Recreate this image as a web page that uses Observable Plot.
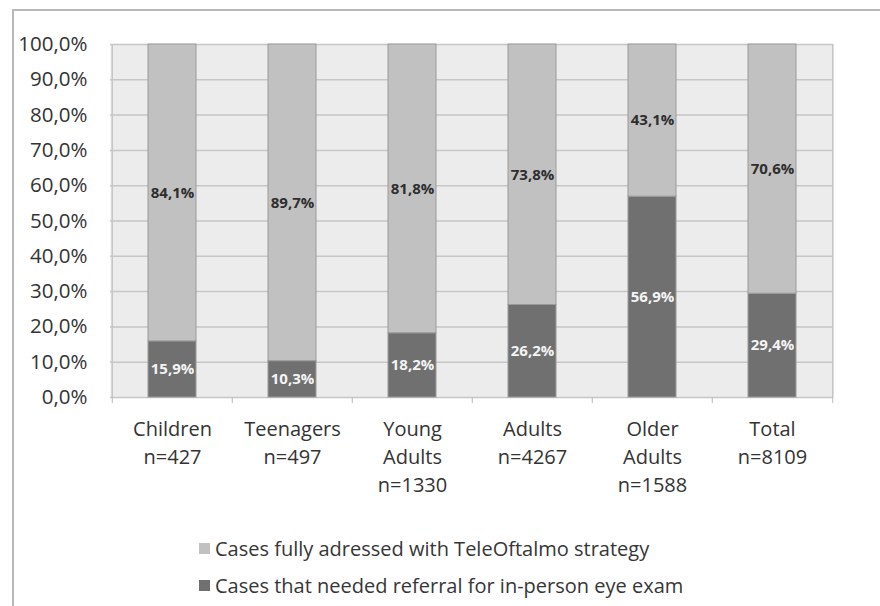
<!DOCTYPE html>
<html>
<head>
<meta charset="utf-8">
<script src="https://cdn.jsdelivr.net/npm/d3@7"></script>
<script src="https://cdn.jsdelivr.net/npm/@observablehq/plot@0.6"></script>
<style>
  html, body { margin: 0; padding: 0; background: #fff; }
  body { width: 880px; height: 606px; position: relative; overflow: hidden; font-family: "Open Sans", sans-serif; }
  #frame { position: absolute; left: 12px; top: 9px; width: 900px; height: 700px; border: 2px solid #b8b8b8; box-sizing: border-box; }
  #chart { position: absolute; left: 0; top: 0; }
  #legend { position: absolute; left: 199px; top: 530px; font-size: 20px; color: #363636; }
  .item { display: flex; align-items: center; height: 37px; }
  .sw { width: 11px; height: 11px; margin-right: 5px; }
</style>
</head>
<body>
<div id="frame"></div>
<div id="chart"></div>
<div id="legend"></div>
<script>
const categories = ["Children", "Teenagers", "Young Adults", "Adults", "Older Adults", "Total"];
const tickLabels = ["Children\nn=427", "Teenagers\nn=497", "Young\nAdults\nn=1330", "Adults\nn=4267", "Older\nAdults\nn=1588", "Total\nn=8109"];
const referral = [15.9, 10.3, 18.2, 26.2, 56.9, 29.4];
const fully = [84.1, 89.7, 81.8, 73.8, 43.1, 70.6];
const seriesNames = ["Cases that needed referral for in-person eye exam", "Cases fully adressed with TeleOftalmo strategy"];
const seriesColors = ["#707070", "#c1c1c1"];
const labelColors = ["#f4f4f4", "#2e2e2e"];
const yTicks = [0, 10, 20, 30, 40, 50, 60, 70, 80, 90, 100];

const data = [];
categories.forEach((c, i) => data.push({cat: c, series: seriesNames[0], value: referral[i]}));
categories.forEach((c, i) => data.push({cat: c, series: seriesNames[1], value: fully[i]}));

const W = 880, H = 500, mL = 110, mR = 47, mT = 44, mB = 103;
const step = (W - mL - mR) / categories.length;
const fmt = d => d.toFixed(1).replace(".", ",") + "%";
const labelOf = Object.fromEntries(categories.map((c, i) => [c, tickLabels[i]]));

const chart = Plot.plot({
  width: W, height: H,
  marginLeft: mL, marginRight: mR, marginTop: mT, marginBottom: mB,
  style: {fontFamily: "'Open Sans', sans-serif", background: "transparent"},
  x: {domain: categories, paddingInner: 0.6, paddingOuter: 0.3, label: null},
  y: {domain: [0, 100], label: null},
  color: {domain: seriesNames, range: seriesColors},
  marks: [
    Plot.frame({fill: "#ececec", stroke: null}),
    Plot.ruleY(yTicks, {stroke: "#c6c6c6", strokeWidth: 1.5}),
    Plot.ruleX([categories[0]], {dx: -step / 2, stroke: "#c6c6c6", strokeWidth: 1.5}),
    Plot.ruleX([categories[categories.length - 1]], {dx: step / 2, stroke: "#c6c6c6", strokeWidth: 1.5}),
    Plot.barY(data, {x: "cat", y: "value", fill: "series", stroke: "#9a9a9a", strokeWidth: 1}),
    Plot.text(data, Plot.stackY({
      x: "cat", y: "value",
      text: d => fmt(d.value),
      fill: d => labelColors[seriesNames.indexOf(d.series)],
      fontSize: 15, fontWeight: "bold"
    })),
    Plot.axisY({ticks: yTicks, tickFormat: fmt, tickSize: 0, tickPadding: 23, fontSize: 20.5, fill: "#333"}),
    Plot.axisX({tickSize: 6, tickFormat: null, dx: -step / 2, stroke: "#b8b8b8"}),
    Plot.axisX({ticks: [categories[categories.length - 1]], tickSize: 6, tickFormat: null, dx: step / 2, stroke: "#b8b8b8"}),
    Plot.axisX({tickSize: 0, tickPadding: 19, tickFormat: d => labelOf[d], fontSize: 20, lineHeight: 1.4, fill: "#333", lineAnchor: "top"})
  ]
});
document.getElementById("chart").appendChild(chart);

const legend = document.getElementById("legend");
[1, 0].forEach(i => {
  const item = document.createElement("div");
  item.className = "item";
  const sw = document.createElement("span");
  sw.className = "sw";
  sw.style.background = seriesColors[i];
  const t = document.createElement("span");
  t.textContent = seriesNames[i];
  item.appendChild(sw);
  item.appendChild(t);
  legend.appendChild(item);
});
</script>
</body>
</html>
